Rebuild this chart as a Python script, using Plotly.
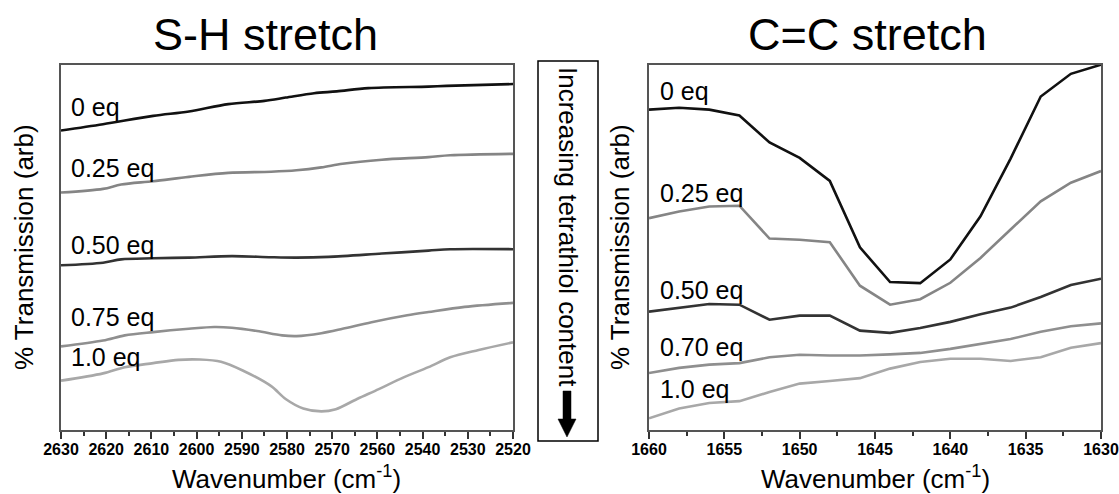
import plotly.graph_objects as go

# ---------------- Data: S-H stretch (left panel) ----------------
# x positions on the drawn axis (internal wavenumber scale 2630 -> 2530, 11 equal ticks)
sh_tick_pos = [2630, 2620, 2610, 2600, 2590, 2580, 2570, 2560, 2550, 2540, 2530]
sh_tick_labels = ["2630", "2620", "2610", "2600", "2590", "2580", "2570", "2560", "2540", "2530", "2520"]

sh_0_x = [2630, 2620.7, 2609.6, 2601.7, 2593, 2585, 2580.3, 2574, 2569, 2562, 2548.7, 2544.7, 2530]
sh_0_y = [82.0, 83.7, 86.0, 87.2, 89.2, 90.1, 91.0, 92.2, 92.7, 93.6, 94.0, 94.2, 94.7]

sh_25_x = [2630, 2620.7, 2616.7, 2609.6, 2601.7, 2593, 2583.5, 2577.9, 2572.4, 2567.7, 2559, 2548.7, 2543.9, 2530]
sh_25_y = [65.0, 66.0, 67.2, 68.1, 69.3, 70.4, 70.7, 71.1, 71.9, 72.9, 74.0, 74.7, 75.2, 75.6]

sh_50_x = [2630, 2620.7, 2616.7, 2609.6, 2601.7, 2592.2, 2583.5, 2577.9, 2570.8, 2559, 2548.7, 2543.9, 2530]
sh_50_y = [45.1, 45.8, 46.7, 47.0, 47.2, 47.6, 47.3, 47.2, 47.4, 48.3, 49.1, 49.5, 49.5]

sh_75_x = [2630, 2620.7, 2615.9, 2609.6, 2601.7, 2596.1, 2592.2, 2586.6, 2581.1, 2577.9, 2572.4, 2567.7,
           2561.3, 2553.4, 2548.7, 2540.7, 2530]
sh_75_y = [22.9, 24.5, 25.9, 26.8, 27.7, 28.2, 28.0, 27.1, 25.9, 25.7, 26.5, 27.7,
           29.5, 31.4, 32.3, 33.7, 34.8]

sh_100_x = [2630, 2620.7, 2615.9, 2609.6, 2604.0, 2599.3, 2594.6, 2589.8, 2583.5, 2580.3, 2576.4, 2572.4,
            2569.2, 2564.5, 2559.7, 2554.2, 2548.7, 2543.9, 2537.6, 2530]
sh_100_y = [13.5, 15.5, 17.2, 18.3, 19.2, 19.3, 18.7, 16.3, 12.0, 8.5, 5.9, 5.1,
            5.7, 8.5, 11.2, 14.4, 17.2, 19.9, 21.9, 24.0]

# ---------------- Data: C=C stretch (right panel) ----------------
cc_x = [1660, 1658, 1656, 1654, 1652, 1650, 1648, 1646, 1644, 1642, 1640, 1638, 1636, 1634, 1632, 1630]
cc_0 = [87.7, 88.2, 87.7, 86.1, 78.7, 74.5, 68.2, 50.0, 40.5, 40.2, 46.7, 58.5, 74.3, 91.3, 97.5, 100.0]
cc_25 = [58.0, 59.8, 61.2, 61.4, 52.4, 52.1, 51.4, 39.5, 34.3, 35.8, 40.3, 47.1, 54.9, 62.6, 67.7, 70.9]
cc_50 = [32.4, 33.5, 34.5, 34.3, 30.2, 31.3, 31.3, 27.2, 26.6, 27.9, 29.6, 31.7, 33.5, 36.4, 39.7, 41.4]
cc_70 = [15.6, 17.0, 17.9, 18.3, 19.9, 20.6, 20.4, 20.4, 20.7, 21.1, 22.2, 23.6, 24.9, 26.9, 28.4, 29.2]
cc_100 = [3.2, 5.9, 7.4, 7.9, 10.4, 12.7, 13.4, 14.2, 16.8, 18.6, 19.5, 19.5, 18.9, 19.9, 22.5, 23.8]

cc_tick_pos = [1660, 1655, 1650, 1645, 1640, 1635, 1630]

sh_labels = ["0 eq", "0.25 eq", "0.50 eq", "0.75 eq", "1.0 eq"]
sh_label_y = [88.3, 71.7, 50.6, 30.9, 19.9]
cc_labels = ["0 eq", "0.25 eq", "0.50 eq", "0.70 eq", "1.0 eq"]
cc_label_y = [92.7, 65.0, 38.3, 22.7, 11.1]

colors = ["#111111", "#858585", "#333333", "#8f8f8f", "#a8a8a8"]

FONT = "Liberation Sans, Arial, sans-serif"
W, H = 1119, 494

def px(x):
    return x / W

def py(y):
    return (H - y) / H

fig = go.Figure()

sh_series = [(sh_0_x, sh_0_y), (sh_25_x, sh_25_y), (sh_50_x, sh_50_y), (sh_75_x, sh_75_y), (sh_100_x, sh_100_y)]
for (xs, ys), c, name in zip(sh_series, colors, sh_labels):
    fig.add_trace(go.Scatter(x=xs, y=ys, mode="lines", name=name,
                             line=dict(color=c, width=2.6, shape="spline", smoothing=0.9),
                             xaxis="x", yaxis="y", showlegend=False, hoverinfo="skip"))

for ys, c, name in zip([cc_0, cc_25, cc_50, cc_70, cc_100], colors, cc_labels):
    fig.add_trace(go.Scatter(x=cc_x, y=ys, mode="lines", name=name,
                             line=dict(color=c, width=2.6),
                             xaxis="x2", yaxis="y2", showlegend=False, hoverinfo="skip"))

axis_common = dict(showline=True, mirror=True, linecolor="#555555", linewidth=1.5,
                   showgrid=False, zeroline=False, automargin=False)
ydom = [py(430), py(64.7)]
tickfont = dict(family=FONT, size=16, weight="bold", color="black")

fig.update_layout(
    width=W, height=H,
    margin=dict(l=0, r=0, t=0, b=0, autoexpand=False),
    paper_bgcolor="white", plot_bgcolor="white",
    font=dict(family=FONT, color="black"),
    xaxis=dict(domain=[px(61), px(513)], range=[2630, 2530],
               tickmode="array", tickvals=sh_tick_pos, ticktext=sh_tick_labels,
               ticks="outside", ticklen=7, tickwidth=1.5, tickcolor="#333333",
               tickfont=tickfont, ticklabelstandoff=-3,
               minor=dict(ticks="outside", ticklen=4, tickwidth=1.5, tickcolor="#333333",
                          tick0=2625, dtick=10),
               anchor="y", **axis_common),
    yaxis=dict(domain=ydom, range=[0, 100], showticklabels=False, ticks="",
               anchor="x", **axis_common),
    xaxis2=dict(domain=[px(649), px(1101)], range=[1660, 1630],
                tickmode="array", tickvals=cc_tick_pos,
                ticks="outside", ticklen=7, tickwidth=1.5, tickcolor="#333333",
                tickfont=tickfont, ticklabelstandoff=-3,
                minor=dict(ticks="outside", ticklen=4, tickwidth=1.5, tickcolor="#333333",
                           tick0=1657.5, dtick=5),
                anchor="y2", **axis_common),
    yaxis2=dict(domain=ydom, range=[0, 100], showticklabels=False, ticks="",
                anchor="x2", **axis_common),
)

annotations = []
# Titles
annotations.append(dict(text="S-H stretch", x=px(265), y=py(35), xref="paper", yref="paper",
                        showarrow=False, font=dict(size=45, family=FONT), xanchor="center", yanchor="middle"))
annotations.append(dict(text="C=C stretch", x=px(867), y=py(35), xref="paper", yref="paper",
                        showarrow=False, font=dict(size=45, family=FONT), xanchor="center", yanchor="middle"))
# Axis titles
for cx in (286, 875):
    annotations.append(dict(text="Wavenumber (cm<sup>-1</sup>)", x=px(cx), y=py(477), xref="paper", yref="paper",
                            showarrow=False, font=dict(size=26, family=FONT), xanchor="center", yanchor="middle"))
for cx in (24, 620):
    annotations.append(dict(text="% Transmission (arb)", x=px(cx), y=py(247), xref="paper", yref="paper",
                            showarrow=False, textangle=-90, font=dict(size=26, family=FONT),
                            xanchor="center", yanchor="middle"))
# Curve labels
for t, yv in zip(sh_labels, sh_label_y):
    annotations.append(dict(text=t, x=2628.3, y=yv, xref="x", yref="y", showarrow=False,
                            font=dict(size=25, family=FONT), xanchor="left", yanchor="middle"))
for t, yv in zip(cc_labels, cc_label_y):
    annotations.append(dict(text=t, x=1659.4, y=yv, xref="x2", yref="y2", showarrow=False,
                            font=dict(size=25, family=FONT), xanchor="left", yanchor="middle"))
# Middle vertical text
annotations.append(dict(text="Increasing tetrathiol content", x=px(568), y=py(227), xref="paper", yref="paper",
                        showarrow=False, textangle=90, font=dict(size=26, family=FONT),
                        xanchor="center", yanchor="middle"))
fig.update_layout(annotations=annotations)

# Middle box and arrow
shapes = [dict(type="rect", xref="paper", yref="paper", x0=px(538), x1=px(598), y0=py(441), y1=py(61),
               line=dict(color="black", width=1.5), fillcolor="rgba(0,0,0,0)")]
ax = 567
pts = [(ax - 4, 391), (ax + 4, 391), (ax + 4, 419), (ax + 9, 419), (ax, 437), (ax - 9, 419), (ax - 4, 419)]
path = "M " + " L ".join(f"{px(x):.5f},{py(y):.5f}" for x, y in pts) + " Z"
shapes.append(dict(type="path", xref="paper", yref="paper", path=path,
                   fillcolor="black", line=dict(color="black", width=0.5)))
fig.update_layout(shapes=shapes)

fig.write_html("out.html")
